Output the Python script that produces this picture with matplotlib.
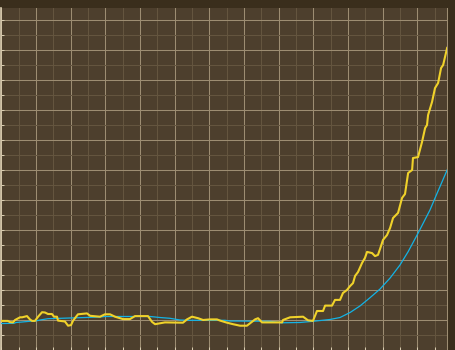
import matplotlib
matplotlib.use("Agg")
import matplotlib.pyplot as plt
from matplotlib.ticker import MultipleLocator, NullFormatter

# ---- data ----
yellow_x = [0, 3.8, 5, 6.7, 7.9, 10.8, 12, 14.8, 16.5, 17.7, 19.4, 21.2, 23.5, 25.2,
            26.9, 29.2, 30.4, 32.1, 32.7, 36.7, 38.5, 40.2, 41.4, 44.2, 49.4, 51.2,
            56.9, 59.8, 62.7, 65.6, 70.2, 74.2, 77.1, 84.6, 86.9, 88.7, 91.5, 94.4,
            104.8, 107.1, 110.0, 113.5, 116.4, 120.4, 124.4, 126.2, 130.2, 133.7,
            137.7, 141.7, 143.5, 146.4, 148.1, 150.4, 162.0, 162.5, 166.6, 174.1,
            176.9, 179.8, 182.1, 185.6, 186.8, 190.8, 192.5, 195.4, 197.1, 199.4,
            201.2, 202.9, 204.1, 205.8, 208.1, 209.8, 211.0, 213.9, 215.6, 217.3,
            218.5, 220.2, 222.5, 224.3, 226.0, 228.9, 231.2, 232.9, 234.7, 237.0,
            237.5, 240.4, 242.7, 244.5, 245.6, 246.2, 248.5, 250.2, 252.0, 253.7,
            254.9, 257.2]
yellow_y = [-0.2, -0.2, -0.6, -0.7, 0.1, 1.0, 1.0, 1.4, 0.3, -0.2, -0.2, 1.2, 2.7, 2.6,
            2.1, 2.1, 1.2, 1.2, -0.1, -0.4, -1.8, -1.6, -0.1, 2.0, 2.3, 1.5,
            1.2, 2.0, 2.0, 1.2, 0.4, 0.4, 1.4, 1.4, -0.5, -1.3, -1.0, -0.7,
            -0.8, 0.3, 1.2, 0.7, 0.1, 0.3, 0.3, -0.1, -0.8, -1.3,
            -1.8, -1.8, -1.0, 0.3, 0.7, -0.7, -0.7, 0.1, 1.0, 1.2,
            0.0, -0.2, 3.1, 3.1, 4.9, 4.9, 6.8, 6.8, 9.1, 10.1,
            11.4, 12.4, 14.8, 16.1, 19.1, 20.8, 22.8, 22.4, 21.4, 21.8,
            23.8, 26.8, 28.4, 30.8, 34.1, 35.8, 40.8, 42.1, 49.1, 50.1,
            54.1, 54.4, 59.4, 64.1, 65.1, 68.4, 72.8, 77.4, 79.1, 84.1,
            85.1, 90.8]

cyan_x = [0, 7.3, 8.5, 11.9, 21.2, 22.3, 26.9, 39.6, 48.3, 56.9, 59.8, 85.8, 91.5,
          97.3, 103.1, 108.9, 129.0, 131.9, 155.0, 161.9, 172.3, 179.8, 189.6,
          195.4, 201.2, 206.9, 212.7, 218.5, 224.3, 230.0, 234.7, 240.4, 247.3,
          251.4, 257.2]
cyan_y = [-1.07, -1.0, -0.73, -0.57, -0.07, 0.1, 0.53, 0.77, 0.93, 1.1, 1.27, 1.27,
          0.93, 0.67, 0.1, 0.0, 0.0, -0.23, -0.33, -0.83, -0.73, -0.33, 0.27,
          0.93, 2.6, 4.77, 7.53, 10.43, 14.1, 18.43, 22.87, 29.0, 36.77,
          42.33, 50.1]

# ---- figure ----
W, H = 456, 350
fig = plt.figure(figsize=(W / 100, H / 100), dpi=100)
fig.patch.set_facecolor("#3a2e1c")
left_px, right_px, top_px = 1.34, 447.3, 8
ax = fig.add_axes([left_px / W, 0, (right_px - left_px) / W, (H - top_px) / H])
ax.set_facecolor("#4d3f2d")

ax.plot(cyan_x, cyan_y, color="#13b3e6", lw=0.9, zorder=3)
ax.plot(yellow_x, yellow_y, color="#f0d22a", lw=1.5, zorder=4)

ax.set_xlim(0, 257.3)
ax.set_ylim(-9.9, 104.1)

ax.xaxis.set_major_locator(MultipleLocator(20))
ax.xaxis.set_minor_locator(MultipleLocator(10))
ax.yaxis.set_major_locator(MultipleLocator(10))
ax.yaxis.set_minor_locator(MultipleLocator(5))
for axis in (ax.xaxis, ax.yaxis):
    axis.set_major_formatter(NullFormatter())
    axis.set_minor_formatter(NullFormatter())

ax.grid(which="major", color="#9d8d72", lw=0.75, zorder=1)
ax.grid(which="minor", color="#64553f", lw=0.75, zorder=0.9)
ax.set_axisbelow(True)

ax.tick_params(which="both", direction="in", length=2.5, width=0.75, color="#d8ccb0",
               left=True, bottom=True, right=False, top=False)

for s in ("top", "bottom"):
    ax.spines[s].set_visible(False)
ax.spines["left"].set_color("#ddd0b4")
ax.spines["left"].set_linewidth(1.2)
ax.spines["right"].set_color("#9d8d72")
ax.spines["right"].set_linewidth(0.75)

fig.savefig("out.png", dpi=100, facecolor=fig.get_facecolor())
